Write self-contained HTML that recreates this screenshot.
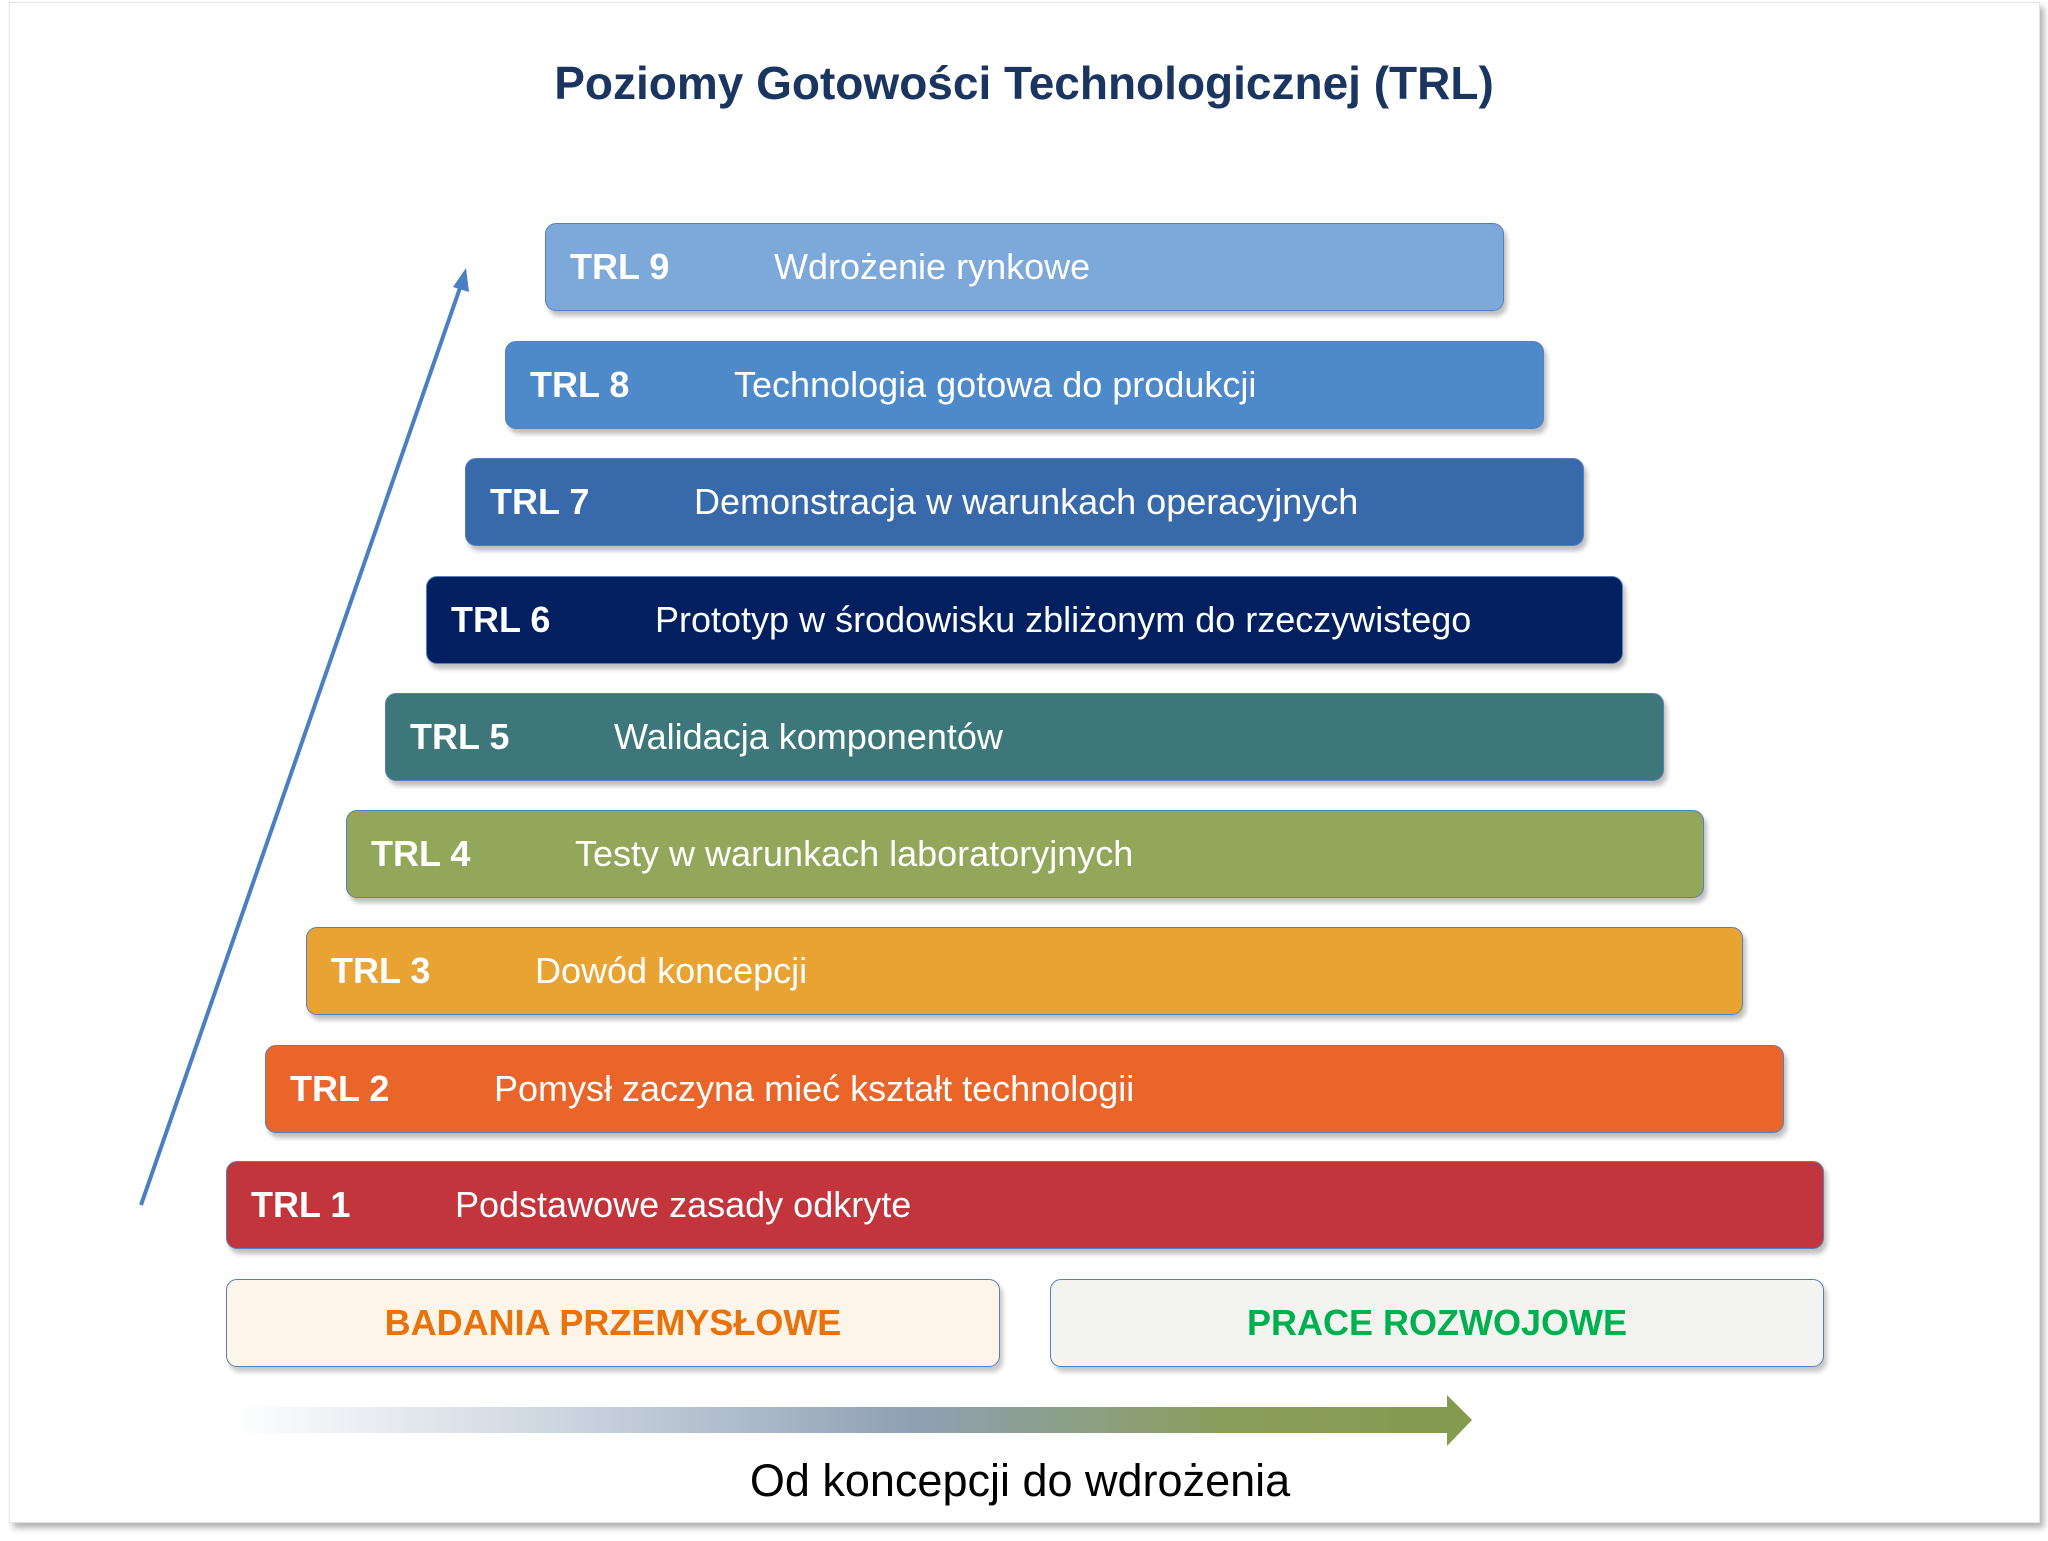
<!DOCTYPE html>
<html><head><meta charset="utf-8"><style>
html,body{margin:0;padding:0;background:#fff;}
body{width:2048px;height:1541px;position:relative;overflow:hidden;font-family:"Liberation Sans",sans-serif;}
.frame{position:absolute;left:9px;top:2px;width:2029px;height:1519px;background:#fff;border:1px solid #e4e4e4;box-shadow:4px 5px 6px rgba(0,0,0,0.3);}
.title{position:absolute;left:0;width:2048px;top:56px;text-align:center;font-weight:bold;font-size:46px;color:#1a3560;}
.bar{position:absolute;height:86px;border:1.5px solid #5580bd;border-radius:11px;box-shadow:3px 5px 5px rgba(0,0,0,0.25);color:#fff;font-size:36px;line-height:86px;}
.bar b{position:absolute;left:24px;font-size:36px;}
.bar span{position:absolute;left:228px;white-space:nowrap;}
.box{position:absolute;top:1279px;height:86px;border:1.5px solid #5580bd;border-radius:11px;box-shadow:3px 5px 5px rgba(0,0,0,0.22);text-align:center;line-height:86px;font-weight:bold;font-size:36px;}
.sub{position:absolute;left:0;width:2040px;top:1455px;text-align:center;font-size:45px;color:#000;}
</style></head><body>
<div class="frame"></div>
<div class="title">Poziomy Gotowości Technologicznej (TRL)</div>

<div class="bar" style="left:545px;top:223px;width:957px;background:#7ca8da"><b>TRL 9</b><span>Wdrożenie rynkowe</span></div>
<div class="bar" style="left:505px;top:341px;width:1037px;background:#4e89c9"><b>TRL 8</b><span>Technologia gotowa do produkcji</span></div>
<div class="bar" style="left:465px;top:458px;width:1117px;background:#3769ab"><b>TRL 7</b><span>Demonstracja w warunkach operacyjnych</span></div>
<div class="bar" style="left:426px;top:576px;width:1195px;background:#02205f"><b>TRL 6</b><span>Prototyp w środowisku zbliżonym do rzeczywistego</span></div>
<div class="bar" style="left:385px;top:693px;width:1277px;background:#3e7779"><b>TRL 5</b><span>Walidacja komponentów</span></div>
<div class="bar" style="left:346px;top:810px;width:1356px;background:#92a75a"><b>TRL 4</b><span>Testy w warunkach laboratoryjnych</span></div>
<div class="bar" style="left:306px;top:927px;width:1435px;background:#e8a333"><b>TRL 3</b><span>Dowód koncepcji</span></div>
<div class="bar" style="left:265px;top:1045px;width:1517px;background:#e9652a"><b>TRL 2</b><span>Pomysł zaczyna mieć kształt technologii</span></div>
<div class="bar" style="left:226px;top:1161px;width:1596px;background:#c2353c"><b>TRL 1</b><span>Podstawowe zasady odkryte</span></div>

<div class="box" style="left:226px;width:772px;background:#fdf5ea;color:#e8720c">BADANIA PRZEMYSŁOWE</div>
<div class="box" style="left:1050px;width:772px;background:#f3f4ef;color:#00b050">PRACE ROZWOJOWE</div>

<svg style="position:absolute;left:0;top:0" width="2048" height="1541">
<defs><linearGradient id="g" x1="229" y1="0" x2="1472" y2="0" gradientUnits="userSpaceOnUse">
<stop offset="0" stop-color="#ffffff"/><stop offset="0.3" stop-color="#c6d0dc"/><stop offset="0.55" stop-color="#8fa0b4"/><stop offset="0.8" stop-color="#8a9e5c"/><stop offset="1" stop-color="#849a4e"/></linearGradient></defs>
<polygon points="229,1407 1447,1407 1447,1395 1472,1420 1447,1446 1447,1433 229,1433" fill="url(#g)"/>
<line x1="141" y1="1205" x2="461" y2="285" stroke="#4a7fc1" stroke-width="4"/>
<polygon points="466,268 469,292 453,287" fill="#4a7fc1"/>
</svg>
<div class="sub">Od koncepcji do wdrożenia</div>
</body></html>
